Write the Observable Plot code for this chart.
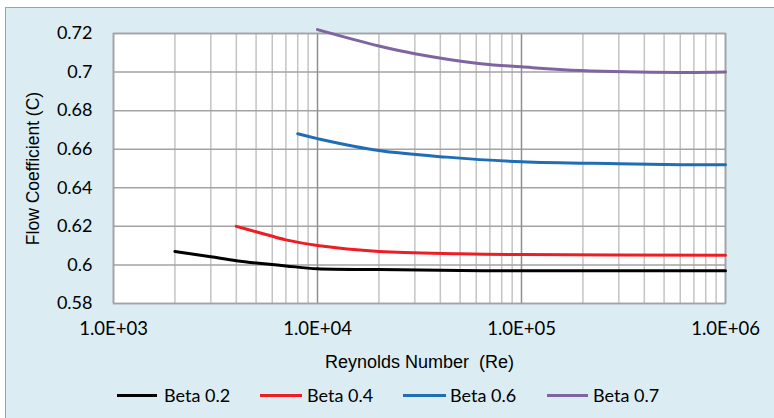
<!DOCTYPE html>
<html><head><meta charset="utf-8">
<script src="https://cdn.jsdelivr.net/npm/d3@7"></script>
<script src="https://cdn.jsdelivr.net/npm/@observablehq/plot@0.6"></script>
<style>
html,body{margin:0;padding:0;background:#fff;}
body{width:774px;height:418px;overflow:hidden;position:relative;font-family:Lato,sans-serif;}
#box{position:absolute;left:5px;top:7px;width:820px;height:440px;border-left:1.5px solid #a0a0a0;border-top:1.5px solid #a0a0a0;background:#dbedf3;}
#chart{position:absolute;left:0;top:0;}
.lg{position:absolute;top:384px;height:22px;font-size:18px;color:#000;line-height:22px;white-space:nowrap;}
.lg span.sw{position:absolute;top:10px;height:3px;}
</style></head>
<body>
<div id="box"></div>
<div id="chart"></div>
<div id="legend"></div>
<script>
const seriesNames = ["Beta 0.2", "Beta 0.4", "Beta 0.6", "Beta 0.7"];
const seriesColors = ["#000000", "#ee1d23", "#1f6db5", "#8064a2"];
const re02 = [2000, 3000, 4000, 5000, 7000, 10000, 20000, 50000, 100000, 1000000];
const c02  = [0.607, 0.6042, 0.6022, 0.601, 0.5995, 0.598, 0.5976, 0.5971, 0.597, 0.597];
const re04 = [4000, 5000, 7000, 10000, 20000, 50000, 100000, 1000000];
const c04  = [0.620, 0.6172, 0.6130, 0.6101, 0.6070, 0.6058, 0.6054, 0.6050];
const re06 = [8000, 10000, 20000, 43000, 100000, 300000, 600000, 1000000];
const c06  = [0.668, 0.6655, 0.6593, 0.6559, 0.6535, 0.6525, 0.652, 0.652];
const re07 = [10000, 20000, 30000, 63000, 100000, 195000, 600000, 1000000];
const c07  = [0.722, 0.7135, 0.7095, 0.7043, 0.7027, 0.7008, 0.6998, 0.700];
const xTicks = [1e3, 1e4, 1e5, 1e6];
const xTickLabels = ["1.0E+03", "1.0E+04", "1.0E+05", "1.0E+06"];
const yTicks = [0.58, 0.6, 0.62, 0.64, 0.66, 0.68, 0.7, 0.72];
const yTickLabels = ["0.58", "0.6", "0.62", "0.64", "0.66", "0.68", "0.7", "0.72"];
const xLabel = "Reynolds Number  (Re)";
const yLabel = "Flow Coefficient (C)";

const xs = [re02, re04, re06, re07];
const ys = [c02, c04, c06, c07];
const data = [];
seriesNames.forEach((s, i) => xs[i].forEach((x, j) => data.push({series: s, re: x, c: ys[i][j]})));
const minor = [];
[1e3, 1e4, 1e5].forEach(d => { for (let k = 2; k <= 9; k++) minor.push(d * k); });

const plot = Plot.plot({
  width: 774, height: 418,
  marginLeft: 113, marginRight: 49, marginTop: 33, marginBottom: 115,
  style: {background: "transparent", fontFamily: "Lato", fontSize: "18px", color: "#000"},
  x: {type: "log", domain: [1e3, 1e6]},
  y: {domain: [0.58, 0.72]},
  color: {domain: seriesNames, range: seriesColors},
  marks: [
    Plot.frame({fill: "#fff"}),
    Plot.ruleX(minor, {stroke: "#c4c4c4", strokeWidth: 1.5}),
    Plot.ruleY(yTicks, {stroke: "#a3a3a3", strokeWidth: 1.5}),
    Plot.ruleX(xTicks, {stroke: "#8f8f8f", strokeWidth: 1.5}),
    Plot.frame({stroke: "#a3a3a3", strokeWidth: 1.5}),
    Plot.axisX({ticks: xTicks, tickFormat: d => xTickLabels[xTicks.indexOf(d)], tickSize: 0, tickPadding: 18, label: null, fontSize: 18.5}),
    Plot.axisY({ticks: yTicks, tickFormat: d => yTickLabels[yTicks.findIndex(t => Math.abs(t - d) < 1e-9)], tickSize: 0, tickPadding: 21, label: null, fontSize: 18}),
    Plot.line(data, {x: "re", y: "c", z: "series", stroke: "series", strokeWidth: 3, curve: "catmull-rom"}),
    Plot.text([xLabel], {frameAnchor: "bottom", dy: 59, lineAnchor: "middle", textAnchor: "middle", fontFamily: "Liberation Sans", fontSize: 18, fill: "#000"}),
    Plot.text([yLabel], {frameAnchor: "left", dx: -80, rotate: -90, lineAnchor: "middle", textAnchor: "middle", fontFamily: "Liberation Sans", fontSize: 17.5, fill: "#000"})
  ]
});
document.getElementById("chart").appendChild(plot);

const legendPos = [[117, 157, 164], [260, 302, 307], [403, 446, 450], [547, 588, 593]];
const lg = document.getElementById("legend");
seriesNames.forEach((s, i) => {
  const [a, b, t] = legendPos[i];
  const sw = document.createElement("div");
  sw.className = "lg";
  sw.style.left = a + "px";
  sw.innerHTML = `<span class="sw" style="left:0;width:${b - a}px;background:${seriesColors[i]}"></span><span style="position:absolute;left:${t - a}px">${s}</span>`;
  lg.appendChild(sw);
});
</script>
</body></html>
